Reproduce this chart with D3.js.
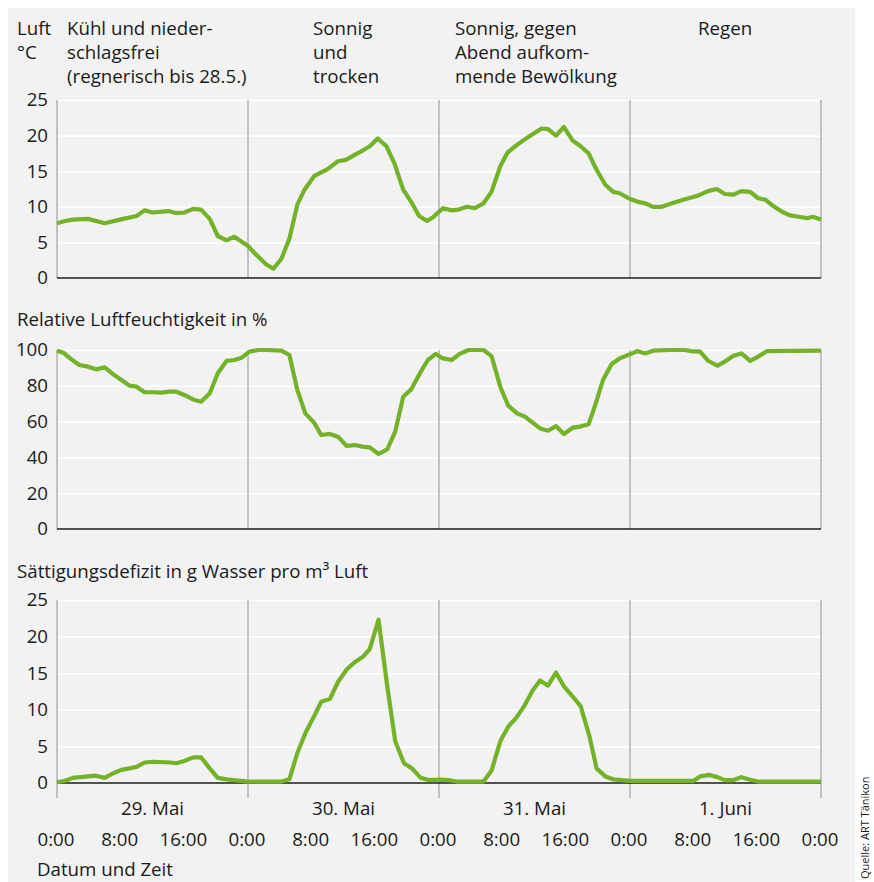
<!DOCTYPE html>
<html><head><meta charset="utf-8">
<script src="https://cdn.jsdelivr.net/npm/d3@7"></script>
<style>
body{margin:0;background:#fff}
text{font-family:"Open Sans",sans-serif;fill:#1a1a1a}
</style></head>
<body>
<svg id="chart" width="874" height="882"></svg>
<script>
// ---------- data (hours since 29 May 0:00) ----------
const tempHours = [0,1,2,3.9,6,7.9,10,11,12,14,15,16,17.1,18.1,19.2,20.2,21.3,22.3,24,25,26.3,27.2,28.2,29.2,30.2,31.1,32.3,34,35.3,36.3,37.4,38.4,39.3,40.3,41.4,42.4,43.5,44.5,45.5,46.5,47.2,48.5,49.6,50.4,51.5,52.5,53.6,54.6,55.7,56.6,57.8,58.8,59.9,60.9,61.7,62.7,63.7,64.8,65.8,66.8,67.8,68.9,69.9,70.7,72,73,73.9,74.9,76,77,78.7,80.6,81.8,82.9,83.9,85,86,87.1,88.1,89,90,91.1,92.1,93.2,94.2,95,96];
const tempValues = [7.7,8.0,8.2,8.3,7.7,8.2,8.7,9.5,9.2,9.4,9.1,9.2,9.7,9.6,8.3,5.9,5.3,5.8,4.5,3.3,1.9,1.3,2.7,5.5,10.3,12.4,14.3,15.3,16.4,16.6,17.3,17.9,18.5,19.6,18.5,16.1,12.4,10.7,8.7,8.0,8.5,9.8,9.5,9.6,10.0,9.8,10.5,12.1,15.7,17.6,18.7,19.5,20.3,21.0,20.9,20.0,21.2,19.3,18.5,17.5,15.2,13.1,12.1,11.9,11.1,10.7,10.5,10.0,10.0,10.4,11.0,11.6,12.2,12.5,11.8,11.7,12.2,12.1,11.2,11.0,10.1,9.3,8.8,8.6,8.4,8.6,8.2];

const humHours = [0,0.8,1.8,2.8,3.9,4.9,6,7,8.1,9.1,10,11,12.1,13.1,14.2,15,16,17.1,18.1,19.2,20.2,21.3,22.3,23.2,24.2,25.3,26.3,28.2,29.2,30.2,31.2,32.3,33.2,34.3,35.3,36.4,37.4,38.4,39.3,40.4,41.5,42.5,43.5,44.5,45.6,46.6,47.6,48.5,49.6,50.6,51.7,53.6,54.6,55.7,56.7,57.8,58.8,59.6,60.7,61.7,62.7,63.7,64.8,65.7,66.8,67.7,68.6,69.7,70.7,72,72.9,73.9,74.9,77,78.9,79.7,80.8,81.8,83,83.9,85,86,87.1,88.1,89.2,96];
const humValues = [99.6,98.5,94.8,91.6,90.7,89.2,90.3,86.6,83.2,80.1,79.5,76.4,76.4,76.2,76.7,76.7,74.9,72.4,71.1,75.8,87.0,93.9,94.4,95.7,99.1,100,100,99.6,97.2,77.7,64.6,59.4,52.5,53.1,51.6,46.4,46.9,46.0,45.6,41.9,44.5,54.4,73.9,78.0,87.0,94.4,97.8,95.3,94.4,97.8,100,100,96.6,79.5,68.9,64.6,62.8,60.0,56.2,54.9,57.5,53.1,56.6,57.2,58.5,70.2,83.2,92.2,95.3,97.6,99.4,98.1,99.6,100,100,99.4,99.1,94.0,91.2,93.5,96.8,98.1,93.9,96.3,99.4,99.6];

const defHours = [0,1,2,3.9,4.9,6,7,8.1,9.1,10,11,12.1,14.2,15,16,17.1,18.1,19.2,20.2,21.3,24,28.2,29.2,30.2,31.2,32.3,33.2,34.3,35.3,36.4,37.4,38.4,39.3,40.4,41.5,42.5,43.6,44.6,45.7,46.7,48.1,49.2,50.2,53.6,54.6,55.7,56.7,57.7,58.7,59.8,60.7,61.7,62.7,63.7,64.8,65.8,66.9,67.8,68.9,69.9,72,80,80.8,82,83,83.9,85,86,87.1,88.1,96];
const defValues = [0.1,0.3,0.7,0.9,1.0,0.7,1.3,1.8,2.0,2.2,2.8,2.9,2.8,2.7,3.0,3.5,3.5,2.0,0.7,0.5,0.2,0.2,0.5,4.1,6.8,9.1,11.1,11.5,13.8,15.5,16.5,17.2,18.3,22.3,13.2,5.7,2.7,2.0,0.7,0.4,0.45,0.4,0.2,0.2,1.7,5.7,7.7,8.9,10.5,12.7,14.0,13.3,15.1,13.2,11.8,10.5,6.4,2.0,0.9,0.5,0.3,0.3,0.9,1.1,0.8,0.4,0.4,0.8,0.45,0.2,0.2];

const dayBounds = [0,24,48,72,96];
const dayLabels = ["29. Mai","30. Mai","31. Mai","1. Juni"];
const timeTicks = [0,8,16,24,32,40,48,56,64,72,80,88,96];
const timeLabels = ["0:00","8:00","16:00","0:00","8:00","16:00","0:00","8:00","16:00","0:00","8:00","16:00","0:00"];
const tempTicks = [0,5,10,15,20,25];
const humTicks = [0,20,40,60,80,100];
const defTicks = [0,5,10,15,20,25];
const weatherNotes = [
  ["Kühl und nieder-","schlagsfrei","(regnerisch bis 28.5.)"],
  ["Sonnig","und","trocken"],
  ["Sonnig, gegen","Abend aufkom-","mende Bewölkung"],
  ["Regen"]
];

// ---------- layout ----------
const FS = 18.7;
const GREEN = "#74b22a";
const svg = d3.select("#chart");
svg.append("rect").attr("x",8).attr("y",8).attr("width",847).attr("height",880).attr("fill","#f2f2f2");

const x = d3.scaleLinear().domain([0,96]).range([57,821]);

const panels = [
  {hours:tempHours, values:tempValues, ticks:tempTicks, domain:[0,25], top:100, bottom:278},
  {hours:humHours, values:humValues, ticks:humTicks, domain:[0,100], top:350, bottom:529},
  {hours:defHours, values:defValues, ticks:defTicks, domain:[0,25], top:600, bottom:783}
];

panels.forEach((p,i)=>{
  const y = d3.scaleLinear().domain(p.domain).range([p.bottom,p.top]);
  const g = svg.append("g");
  // white grid lines
  g.append("g").attr("transform",`translate(${x(0)},0)`)
    .call(d3.axisLeft(y).tickValues(p.ticks).tickSize(-(x(96)-x(0))).tickFormat(""))
    .call(a=>a.select(".domain").remove())
    .call(a=>a.selectAll("line").attr("stroke","#ffffff").attr("stroke-width",1.6));
  // day separators (gray)
  const ext = i===2 ? 15 : 0;
  g.append("g").selectAll("line").data(dayBounds).join("line")
    .attr("x1",d=>x(d)).attr("x2",d=>x(d))
    .attr("y1",p.top).attr("y2",p.bottom+ext)
    .attr("stroke","#a8a8a8").attr("stroke-width",1.3);
  // baseline
  g.append("line").attr("x1",x(0)).attr("x2",x(96)).attr("y1",y(0)).attr("y2",y(0))
    .attr("stroke","#1a1a1a").attr("stroke-width",1.3);
  // tick labels
  g.append("g").attr("transform",`translate(${x(0)-9},0)`)
    .call(d3.axisLeft(y).tickValues(p.ticks).tickSize(0).tickPadding(0))
    .call(a=>a.select(".domain").remove())
    .call(a=>a.selectAll("text").attr("font-size",FS).style("font-family","'Open Sans',sans-serif").attr("fill","#1a1a1a"));
  // series line
  const pts = p.hours.map((h,k)=>[h,p.values[k]]);
  g.append("path").datum(pts)
    .attr("d",d3.line().x(d=>x(d[0])).y(d=>y(d[1])))
    .attr("fill","none").attr("stroke",GREEN).attr("stroke-width",4.2)
    .attr("stroke-linejoin","round").attr("stroke-linecap","butt");
});

// header texts
const header = svg.append("g").attr("font-size",FS);
header.append("text").attr("x",17).attr("y",34.5).text("Luft");
header.append("text").attr("x",17).attr("y",58.5).text("°C");
const noteX = [67,313,455,698];
weatherNotes.forEach((lines,i)=>{
  lines.forEach((t,k)=>{
    header.append("text").attr("x",noteX[i]).attr("y",34.5+k*24).text(t);
  });
});
svg.append("text").attr("x",17).attr("y",326).attr("font-size",FS).text("Relative Luftfeuchtigkeit in %");
svg.append("text").attr("x",17).attr("y",578).attr("font-size",FS).text("Sättigungsdefizit in g Wasser pro m³ Luft");

// x axis labels
svg.append("g").selectAll("text").data(dayLabels).join("text")
  .attr("x",(d,i)=>x(dayBounds[i]+12)).attr("y",815).attr("text-anchor","middle").attr("font-size",FS).text(d=>d);
svg.append("g").selectAll("text").data(timeTicks).join("text")
  .attr("x",d=>x(d)-1).attr("y",846).attr("text-anchor","middle").attr("font-size",FS).text((d,i)=>timeLabels[i]);
svg.append("text").attr("x",37).attr("y",876).attr("font-size",FS).text("Datum und Zeit");

// source
svg.append("text").attr("transform","translate(869,879) rotate(-90)").attr("font-size",11).text("Quelle: ART Tänikon");
</script></body></html>
